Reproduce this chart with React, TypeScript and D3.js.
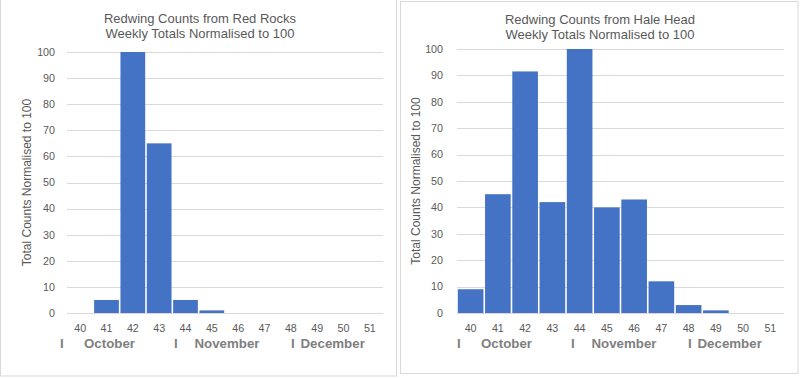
import React from "react";
import * as d3 from "d3";

const weeks = ["40", "41", "42", "43", "44", "45", "46", "47", "48", "49", "50", "51"];
const redRocksValues = [0, 5, 100, 65, 5, 1, 0, 0, 0, 0, 0, 0];
const haleHeadValues = [9, 45, 91.5, 42, 100, 40, 43, 12, 3, 1, 0, 0];
const yTicks = [0, 10, 20, 30, 40, 50, 60, 70, 80, 90, 100];
const months = ["October", "November", "December"];
const redRocksTitle = ["Redwing Counts from Red Rocks", "Weekly Totals Normalised to 100"];
const haleHeadTitle = ["Redwing Counts from Hale Head", "Weekly Totals Normalised to 100"];
const yAxisTitle = "Total Counts Normalised to 100";

const FONT = "Arial, 'Liberation Sans', sans-serif";

interface Layout {
  panel: [number, number, number, number];
  x0: number;
  x1: number;
  yTop: number;
  yBottom: number;
  titleY: number;
  titleX: number;
  yTitleX: number;
  tickRight: number;
  monthX: number;
}

function Chart({ values, title, L }: { values: number[]; title: string[]; L: Layout }) {
  const x = d3.scaleBand<string>().domain(weeks).range([L.x0, L.x1]).padding(0);
  const y = d3.scaleLinear().domain([0, 100]).range([L.yBottom, L.yTop]);
  const bw = x.bandwidth();
  const sepOffsets = [0, 114, 231];
  const monthOffsets = [24, 134.5, 240.5];
  return (
    <g>
      <rect
        x={L.panel[0]}
        y={L.panel[1]}
        width={L.panel[2]}
        height={L.panel[3]}
        fill="#fff"
        stroke="#d9d9d9"
        strokeWidth={1}
      />
      {title.map((t, i) => (
        <text
          key={t}
          x={L.titleX}
          y={L.titleY + i * 15}
          textAnchor="middle"
          fontFamily={FONT}
          fontSize={13}
          fill="#595959"
        >
          {t}
        </text>
      ))}
      {yTicks.map((t) => (
        <g key={t}>
          <line x1={L.x0} x2={L.x1} y1={Math.round(y(t)) + 0.5} y2={Math.round(y(t)) + 0.5} stroke="#d9d9d9" strokeWidth={1} />
          <text
            x={L.tickRight}
            y={y(t)}
            dy="0.36em"
            textAnchor="end"
            fontFamily={FONT}
            fontSize={10.7}
            fill="#595959"
          >
            {t}
          </text>
        </g>
      ))}
      {values.map((v, i) => (
        <rect
          key={weeks[i]}
          x={(x(weeks[i]) as number) + 0.8}
          y={y(v)}
          width={bw - 1.6}
          height={L.yBottom - y(v)}
          fill="#4472c4"
        />
      ))}
      {weeks.map((w) => (
        <text
          key={w}
          x={(x(w) as number) + bw / 2}
          y={332}
          textAnchor="middle"
          fontFamily={FONT}
          fontSize={10.7}
          fill="#595959"
        >
          {w}
        </text>
      ))}
      {months.map((m, i) => (
        <g key={m}>
          <text x={L.monthX + sepOffsets[i]} y={348} fontFamily={FONT} fontSize={13.3} fontWeight="bold" fill="#7f7f7f">
            I
          </text>
          <text x={L.monthX + monthOffsets[i]} y={348} fontFamily={FONT} fontSize={13.3} fontWeight="bold" fill="#7f7f7f">
            {m}
          </text>
        </g>
      ))}
      <text
        transform={`translate(${L.yTitleX},${(L.yTop + L.yBottom) / 2}) rotate(-90)`}
        textAnchor="middle"
        fontFamily={FONT}
        fontSize={12}
        fill="#595959"
      >
        {yAxisTitle}
      </text>
    </g>
  );
}

const leftLayout: Layout = {
  panel: [0.5, -0.5, 396, 376.5],
  x0: 67,
  x1: 383,
  yTop: 52,
  yBottom: 313,
  titleY: 22.5,
  titleX: 200,
  yTitleX: 31,
  tickRight: 55,
  monthX: 60,
};

const rightLayout: Layout = {
  panel: [400.5, 1.5, 397.5, 372],
  x0: 457,
  x1: 784,
  yTop: 49,
  yBottom: 313,
  titleY: 23.5,
  titleX: 600,
  yTitleX: 420,
  tickRight: 443,
  monthX: 457,
};

export default function App() {
  return (
    <svg
      width={800}
      height={378}
      style={{ position: "fixed", left: 0, top: 0, background: "#fff" }}
    >
      <Chart values={redRocksValues} title={redRocksTitle} L={leftLayout} />
      <Chart values={haleHeadValues} title={haleHeadTitle} L={rightLayout} />
    </svg>
  );
}
